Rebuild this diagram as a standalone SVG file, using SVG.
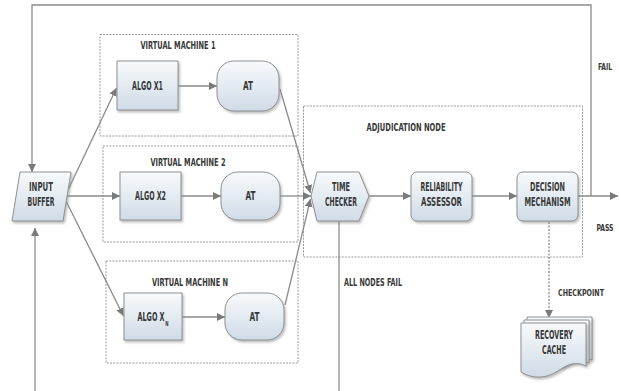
<svg xmlns="http://www.w3.org/2000/svg" width="619" height="391" viewBox="0 0 619 391">
<defs>
<linearGradient id="g" x1="0" y1="0" x2="0" y2="1">
<stop offset="0" stop-color="#f8fafc"/>
<stop offset="1" stop-color="#cfdbe7"/>
</linearGradient>
<filter id="sh" x="-20%" y="-20%" width="150%" height="150%">
<feDropShadow dx="1.5" dy="2" stdDeviation="1.2" flood-color="#8a8a8a" flood-opacity="0.55"/>
</filter>
<marker id="ah" markerUnits="userSpaceOnUse" markerWidth="9" markerHeight="8" refX="8" refY="4" orient="auto">
<path d="M0,0 L8,4 L0,8 z" fill="#7a7a7a"/>
</marker>
</defs>
<style>
.node{fill:url(#g);stroke:#909090;stroke-width:1;filter:url(#sh)}
.grp{fill:none;stroke:#9a9a9a;stroke-width:1;stroke-dasharray:2 1.2}
.ln{fill:none;stroke:#8a8a8a;stroke-width:1.3}
.arr{marker-end:url(#ah)}
.dot{stroke-dasharray:2 1.5}
text{font-family:"Liberation Sans Narrow","DejaVu Sans Condensed","Liberation Sans",sans-serif;font-weight:bold;fill:#383838;text-anchor:middle;font-size:10.5px}
.t{font-size:11.5px}
.s{font-size:9.5px}
.sub{font-size:7px}
</style>
<!-- groups -->
<g id="vm1"><rect class="grp" x="100" y="34.5" width="198" height="101.5"/><text x="178" y="49" textLength="75" lengthAdjust="spacingAndGlyphs">VIRTUAL MACHINE 1</text></g>
<g id="vm2"><rect class="grp" x="103" y="146" width="195" height="96"/><text x="188" y="166" textLength="75" lengthAdjust="spacingAndGlyphs">VIRTUAL MACHINE 2</text></g>
<g id="vmn"><rect class="grp" x="106" y="261" width="192" height="102"/><text x="190" y="286" textLength="76" lengthAdjust="spacingAndGlyphs">VIRTUAL MACHINE N</text></g>
<g id="adj"><rect class="grp" x="303.5" y="106" width="279" height="151"/><text x="406" y="131" textLength="79" lengthAdjust="spacingAndGlyphs">ADJUDICATION NODE</text></g>
<!-- connectors -->
<g id="connectors">
<path class="ln arr" d="M68,190 L116.5,88"/>
<path class="ln arr" d="M67,196 L120,196"/>
<path class="ln arr" d="M66,201 L123.5,316"/>
<path class="ln arr" d="M178,86 L217,86"/>
<path class="ln arr" d="M181,196 L221,196"/>
<path class="ln arr" d="M182,317 L225,317"/>
<path class="ln arr" d="M280,89 L310.5,193"/>
<path class="ln arr" d="M280,196 L311,196"/>
<path class="ln arr" d="M285,305 L310.5,199"/>
<path class="ln arr" d="M369,196 L411,196"/>
<path class="ln arr" d="M472,196 L517,196"/>
<path class="ln arr" d="M578,196 L618,196"/>
<path class="ln arr" d="M591,196 L591,5 L32,5 L32,172"/>
<path class="ln arr" d="M35,391 L35,228"/>
<path class="ln" d="M339,221 L339,391"/>
<path class="ln arr dot" d="M549,222 L549,318"/>
<text class="s" x="605" y="70" textLength="14" lengthAdjust="spacingAndGlyphs">FAIL</text>
<text class="s" x="605" y="231" textLength="17" lengthAdjust="spacingAndGlyphs">PASS</text>
<text x="373" y="286" textLength="58" lengthAdjust="spacingAndGlyphs">ALL NODES FAIL</text>
<text class="s" x="581" y="296" textLength="46" lengthAdjust="spacingAndGlyphs">CHECKPOINT</text>
</g>
<!-- nodes -->
<g id="input"><path class="node" d="M20,172 L71,172 L63,221 L12,221 Z"/><text class="t" x="41" y="191" textLength="24" lengthAdjust="spacingAndGlyphs">INPUT</text><text class="t" x="41" y="206" textLength="27" lengthAdjust="spacingAndGlyphs">BUFFER</text></g>
<g id="algo1"><rect class="node" x="117" y="61" width="61" height="49"/><text class="t" x="147.5" y="90" textLength="31" lengthAdjust="spacingAndGlyphs">ALGO X1</text></g>
<g id="at1"><rect class="node" x="217" y="61" width="62" height="50" rx="17" ry="17"/><text class="t" x="248" y="90" textLength="10" lengthAdjust="spacingAndGlyphs">AT</text></g>
<g id="algo2"><rect class="node" x="120" y="172" width="61" height="48"/><text class="t" x="150.5" y="200" textLength="31" lengthAdjust="spacingAndGlyphs">ALGO X2</text></g>
<g id="at2"><rect class="node" x="221" y="172" width="59" height="48" rx="17" ry="17"/><text class="t" x="250.5" y="200" textLength="10" lengthAdjust="spacingAndGlyphs">AT</text></g>
<g id="algon"><rect class="node" x="124" y="293" width="58" height="47"/><text class="t" x="153" y="321" textLength="31" lengthAdjust="spacingAndGlyphs">ALGO X<tspan class="sub" dx="1" dy="5">N</tspan></text></g>
<g id="atn"><rect class="node" x="225" y="293" width="59" height="47" rx="17" ry="17"/><text class="t" x="254.5" y="321" textLength="10" lengthAdjust="spacingAndGlyphs">AT</text></g>
<g id="time"><path class="node" d="M317,172 L359,172 L369,196 L359,221 L317,221 L311,196 Z"/><text class="t" x="341" y="191" textLength="18" lengthAdjust="spacingAndGlyphs">TIME</text><text class="t" x="341" y="206" textLength="32" lengthAdjust="spacingAndGlyphs">CHECKER</text></g>
<g id="rel"><rect class="node" x="411" y="172" width="61" height="49" rx="6" ry="6"/><text class="t" x="441.5" y="191" textLength="42" lengthAdjust="spacingAndGlyphs">RELIABILITY</text><text class="t" x="441.5" y="206" textLength="41" lengthAdjust="spacingAndGlyphs">ASSESSOR</text></g>
<g id="dec"><rect class="node" x="517" y="172" width="61" height="49" rx="6" ry="6"/><text class="t" x="547.5" y="191" textLength="35" lengthAdjust="spacingAndGlyphs">DECISION</text><text class="t" x="547.5" y="206" textLength="46" lengthAdjust="spacingAndGlyphs">MECHANISM</text></g>
<g id="cache">
<path class="node" d="M527,317 L592,317 L592,360 C582,356 574,358 566,364 L527,364 Z"/>
<path class="node" d="M524,320 L589,320 L589,363 C579,359 571,361 563,367 L524,367 Z"/>
<path class="node" d="M521,323 L586,323 L586,366 C576,361 568,364 558,371 C546,379 532,379 521,372 Z"/>
<text class="t" x="554" y="339" textLength="38" lengthAdjust="spacingAndGlyphs">RECOVERY</text><text class="t" x="554" y="354" textLength="24" lengthAdjust="spacingAndGlyphs">CACHE</text>
</g>
</svg>
